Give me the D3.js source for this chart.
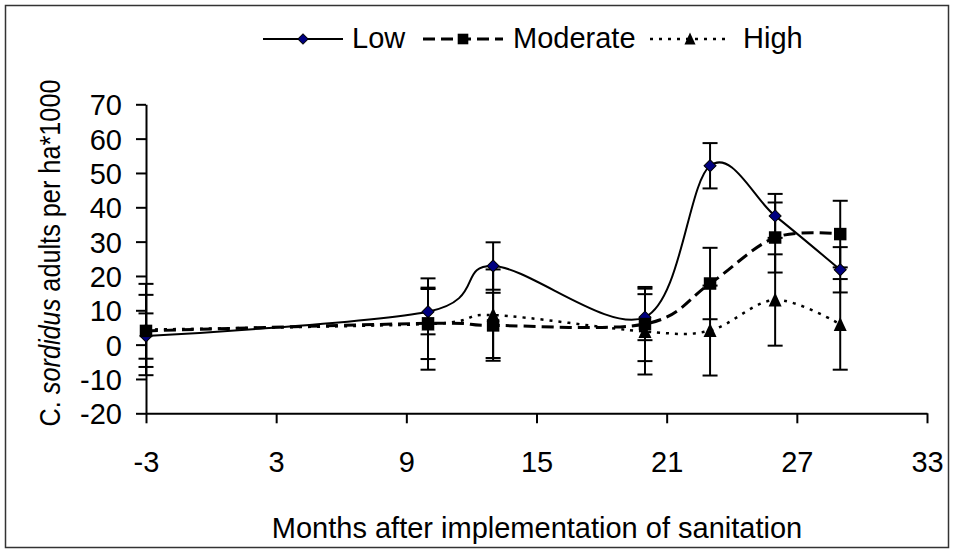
<!DOCTYPE html>
<html lang="en">
<head>
<meta charset="utf-8">
<title>C. sordidus adults</title>
<script src="https://d3js.org/d3.v7.min.js"></script>
<style>
body { margin: 0; background: #fff; }
svg text { font-family: "Liberation Sans", Arial, Helvetica, sans-serif; fill: #000; }
</style>
</head>
<body>
<div id="chart"></div>
<script>
// data
var months = [-3, 10, 13, 20, 23, 26, 29];
var low = [2.5, 9.6, 22.9, 8.0, 52.1, 37.5, 21.8];
var lowErr = [6.6, 6.6, 6.9, 6.7, 6.6, 6.4, 6.6];
var moderate = [4.0, 6.2, 5.6, 6.0, 17.8, 31.2, 32.2];
var moderateErr = [10.5, 10.4, 9.5, 10.8, 10.4, 10.2, 9.7];
var high = [4.4, 6.0, 8.6, 3.8, 4.1, 13.0, 5.9];
var highErr = [13.3, 13.3, 13.3, 12.5, 13.1, 13.3, 13.2];
var seriesNames = ["Low", "Moderate", "High"];
var xTicks = [-3, 3, 9, 15, 21, 27, 33];
var yTicks = [-20, -10, 0, 10, 20, 30, 40, 50, 60, 70];

var W = 954, H = 553;
var svg = d3.select("#chart").append("svg")
  .attr("width", W).attr("height", H);

// outer frame
svg.append("rect")
  .attr("x", 5.5).attr("y", 5.5)
  .attr("width", 943).attr("height", 542)
  .attr("fill", "none").attr("stroke", "#333").attr("stroke-width", 1.5);

var x = d3.scaleLinear().domain([-3, 33]).range([146, 927]);
var y = d3.scaleLinear().domain([-20, 70]).range([413.3, 104.3]);

// axes
var xAxis = svg.append("g")
  .attr("transform", "translate(0," + y(-20) + ")")
  .call(d3.axisBottom(x).tickValues(xTicks).tickFormat(d3.format("d"))
    .tickSize(10).tickSizeOuter(0).tickPadding(28));
var yAxis = svg.append("g")
  .attr("transform", "translate(" + x(-3) + ",0)")
  .call(d3.axisLeft(y).tickValues(yTicks).tickFormat(d3.format("d"))
    .tickSize(10).tickSizeOuter(0).tickPadding(14));
[xAxis, yAxis].forEach(function(a) {
  a.selectAll("path, line").attr("stroke", "#000").attr("stroke-width", 2);
  a.selectAll("text").style("font-size", "29px").attr("fill", "#000")
    .text(function(d) { return d < 0 ? "-" + Math.abs(d) : d; });
});
yAxis.selectAll("text").attr("dy", "0.36em");

// axis titles
svg.append("text")
  .attr("x", 537).attr("y", 538)
  .attr("text-anchor", "middle")
  .style("font-size", "29px")
  .text("Months after implementation of sanitation");

var yt = svg.append("text")
  .attr("transform", "translate(60,253) rotate(-90)")
  .attr("text-anchor", "middle")
  .attr("textLength", 347).attr("lengthAdjust", "spacingAndGlyphs")
  .style("font-size", "29px");
yt.append("tspan").text("C. ");
yt.append("tspan").style("font-style", "italic").text("sordidus");
yt.append("tspan").text("  adults per ha*1000");

var series = [
  {name: seriesNames[0], vals: low, err: lowErr, dash: null, width: 2, shape: "diamond", fill: "#000080"},
  {name: seriesNames[1], vals: moderate, err: moderateErr, dash: "12,6", width: 3, shape: "square", fill: "#000"},
  {name: seriesNames[2], vals: high, err: highErr, dash: "3,6", width: 2.5, shape: "triangle", fill: "#000"}
];

function marker(g, shape, fill, big) {
  var k = big ? 1 : 0.85;
  if (shape === "diamond") {
    g.append("path").attr("d", d3.symbol().type(d3.symbolSquare).size(72 * k * k)())
      .attr("transform", "rotate(45)")
      .attr("fill", fill).attr("stroke", "#000").attr("stroke-width", 1);
  } else if (shape === "square") {
    g.append("path").attr("d", d3.symbol().type(d3.symbolSquare).size(156 * k * k)())
      .attr("fill", fill);
  } else {
    var s = 13 * k;
    g.append("path")
      .attr("d", "M0," + (-s / 2 - 1) + "L" + (s / 2) + "," + (s / 2) + "L" + (-s / 2) + "," + (s / 2) + "Z")
      .attr("fill", fill);
  }
}

var line = d3.line()
  .x(function(d) { return x(d.m); })
  .y(function(d) { return y(d.v); })
  .curve(d3.curveCardinal.tension(0));

// error bars
series.forEach(function(s) {
  var pts = months.map(function(m, i) { return {m: m, v: s.vals[i], e: s.err[i]}; });
  var eb = svg.append("g").attr("class", "err");
  eb.selectAll("line.v").data(pts).enter().append("line")
    .attr("x1", function(d) { return x(d.m); }).attr("x2", function(d) { return x(d.m); })
    .attr("y1", function(d) { return y(d.v - d.e); }).attr("y2", function(d) { return y(d.v + d.e); })
    .attr("stroke", "#000").attr("stroke-width", 2);
  [-1, 1].forEach(function(sg) {
    eb.selectAll("line.c" + sg).data(pts).enter().append("line")
      .attr("x1", function(d) { return x(d.m) - 7.5; }).attr("x2", function(d) { return x(d.m) + 7.5; })
      .attr("y1", function(d) { return y(d.v + sg * d.e); }).attr("y2", function(d) { return y(d.v + sg * d.e); })
      .attr("stroke", "#000").attr("stroke-width", 2);
  });
});

// lines and markers
series.forEach(function(s) {
  var pts = months.map(function(m, i) { return {m: m, v: s.vals[i]}; });
  svg.append("path").datum(pts)
    .attr("d", line)
    .attr("fill", "none").attr("stroke", "#000")
    .attr("stroke-width", s.width)
    .attr("stroke-dasharray", s.dash);
  svg.append("g").selectAll("g").data(pts).enter().append("g")
    .attr("transform", function(d) { return "translate(" + x(d.m) + "," + y(d.v) + ")"; })
    .each(function() { marker(d3.select(this), s.shape, s.fill, true); });
});

// legend
var legendX = [263, 423, 650];
var legendText = [352, 513, 743];
series.forEach(function(s, i) {
  var g = svg.append("g");
  g.append("line")
    .attr("x1", legendX[i]).attr("x2", legendX[i] + 80)
    .attr("y1", 39).attr("y2", 39)
    .attr("stroke", "#000").attr("stroke-width", s.width)
    .attr("stroke-dasharray", s.dash);
  var m = g.append("g").attr("transform", "translate(" + (legendX[i] + 40) + ",39)");
  marker(m, s.shape, s.fill, false);
  g.append("text")
    .attr("x", legendText[i]).attr("y", 48)
    .style("font-size", "29px")
    .text(s.name);
});
</script>
</body>
</html>
